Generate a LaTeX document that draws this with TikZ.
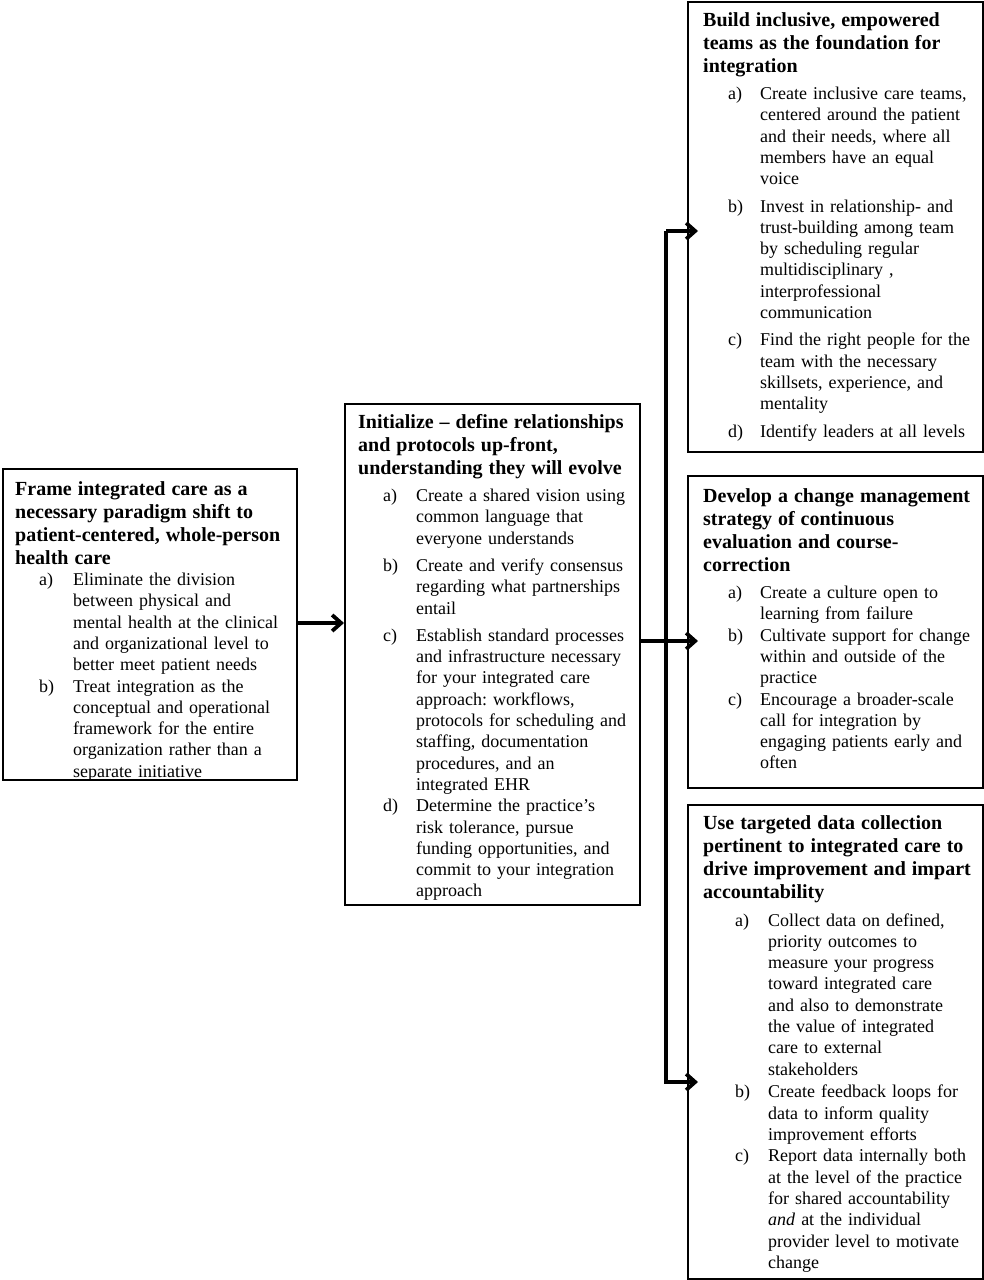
\documentclass[tikz,border=0pt]{standalone}
\usepackage{fontspec}
\setmainfont{Liberation Serif}
\usetikzlibrary{arrows.meta}
\frenchspacing
\newlength\lblind
\newlength\txtind
\newcommand{\boxtitle}[1]{{\fontsize{20}{23}\selectfont\bfseries\strut #1\par}}
\newcommand{\itm}[2]{\par\noindent\hangindent=\txtind\hangafter=1\makebox[\txtind][l]{\hspace*{\lblind}#1}{\let\\\newline #2}\par}
\tikzset{
  boxnode/.style={draw=black, line width=1.6pt, inner sep=0pt, anchor=north west},
  txt/.style={anchor=north west, inner sep=0pt, text width=320pt, align=left,
              font=\fontsize{18}{21.3}\selectfont\frenchspacing},
  conn/.style={draw=black, line width=3.4pt},
  tip/.style={-{Straight Barb[length=9pt,width=16pt,line width=3.8pt]}}
}
\begin{document}
\begin{tikzpicture}[x=1pt,y=-1pt]
\useasboundingbox (0,0) rectangle (984,1280);
\fill[white] (0,0) rectangle (984,1280);
% boxes
\node[boxnode, minimum width=294pt, minimum height=311pt] (b1) at (2,468) {};
\node[boxnode, minimum width=295pt, minimum height=501pt] (b2) at (344,403) {};
\node[boxnode, minimum width=295pt, minimum height=450pt] (b3) at (687,1) {};
\node[boxnode, minimum width=295pt, minimum height=312pt] (b4) at (687,475) {};
\node[boxnode, minimum width=295pt, minimum height=474pt] (b5) at (687,804) {};
% texts
\node[txt] (t1) at (15,478.9) {%
\setlength\lblind{24pt}\setlength\txtind{58pt}%
\boxtitle{Frame integrated care as a\\ necessary paradigm shift to\\ patient-centered, whole-person\\ health care}
\itm{a)}{Eliminate the division\\ between physical and\\ mental health at the clinical\\ and organizational level to\\ better meet patient needs}
\itm{b)}{Treat integration as the\\ conceptual and operational\\ framework for the entire\\ organization rather than a\\ separate initiative}};
\node[txt] (t2) at (358,411.9) {%
\setlength\lblind{25pt}\setlength\txtind{58pt}%
\boxtitle{Initialize \textendash{} define relationships\\ and protocols up-front,\\ understanding they will evolve}
\vspace{6pt}
\itm{a)}{Create a shared vision using\\ common language that\\ everyone understands}
\vspace{6pt}
\itm{b)}{Create and verify consensus\\ regarding what partnerships\\ entail}
\vspace{6pt}
\itm{c)}{Establish standard processes\\ and infrastructure necessary\\ for your integrated care\\ approach: workflows,\\ protocols for scheduling and\\ staffing, documentation\\ procedures, and an\\ integrated EHR}
\itm{d)}{Determine the practice’s\\ risk tolerance, pursue\\ funding opportunities, and\\ commit to your integration\\ approach}};
\node[txt] (t3) at (703,9.9) {%
\setlength\lblind{25pt}\setlength\txtind{57pt}%
\boxtitle{Build inclusive, empowered\\ teams as the foundation for\\ integration}
\vspace{6pt}
\itm{a)}{Create inclusive care teams,\\ centered around the patient\\ and their needs, where all\\ members have an equal\\ voice}
\vspace{6pt}
\itm{b)}{Invest in relationship- and\\ trust-building among team\\ by scheduling regular\\ multidisciplinary ,\\ interprofessional\\ communication}
\vspace{6pt}
\itm{c)}{Find the right people for the\\ team with the necessary\\ skillsets, experience, and\\ mentality}
\vspace{6pt}
\itm{d)}{Identify leaders at all levels}};
\node[txt] (t4) at (703,485.9) {%
\setlength\lblind{25pt}\setlength\txtind{57pt}%
\boxtitle{Develop a change management\\ strategy of continuous\\ evaluation and course-\\ correction}
\vspace{6pt}
\itm{a)}{Create a culture open to\\ learning from failure}
\itm{b)}{Cultivate support for change\\ within and outside of the\\ practice}
\itm{c)}{Encourage a broader-scale\\ call for integration by\\ engaging patients early and\\ often}};
\node[txt] (t5) at (703,812.9) {%
\setlength\lblind{32pt}\setlength\txtind{65pt}%
\boxtitle{Use targeted data collection\\ pertinent to integrated care to\\ drive improvement and impart\\ accountability}
\vspace{6.5pt}
\itm{a)}{Collect data on defined,\\ priority outcomes to\\ measure your progress\\ toward integrated care\\ and also to demonstrate\\ the value of integrated\\ care to external\\ stakeholders}
\vspace{1.5pt}
\itm{b)}{Create feedback loops for\\ data to inform quality\\ improvement efforts}
\itm{c)}{Report data internally both\\ at the level of the practice\\ for shared accountability\\ \textit{and} at the individual\\ provider level to motivate\\ change}};
% connectors
\coordinate (j) at (666,641);
\coordinate (jt) at (666,231);
\coordinate (jb) at (666,1082);
\draw[conn, tip] (b1.east |- 0,623) -- (b2.west |- 0,623);
\draw[conn, tip] (b2.east |- j) -- ([xshift=11pt]b4.west |- j);
\draw[conn, tip] (jt) -- ([xshift=11pt]b3.west |- jt);
\draw[conn, tip] (jt) -- (jb) -- ([xshift=11pt]b5.west |- jb);
\end{tikzpicture}
\end{document}
